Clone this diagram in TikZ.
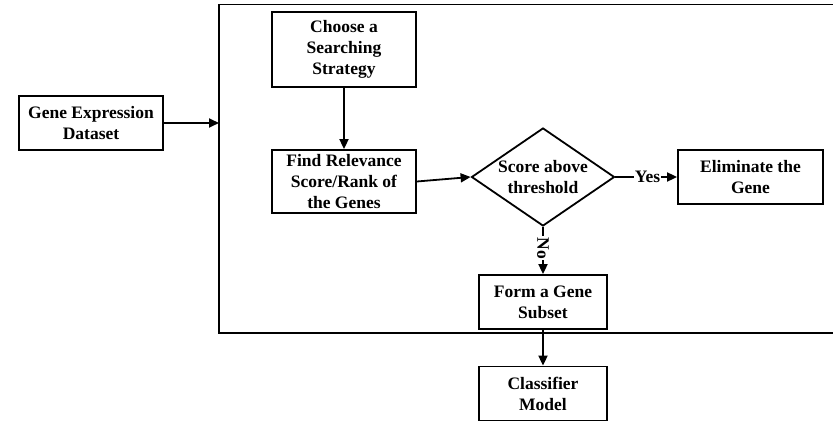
\documentclass[tikz,border=0pt]{standalone}
\usepackage{fontspec}
\setmainfont{Liberation Serif}
\usetikzlibrary{arrows.meta,shapes.geometric}
\begin{document}
\begin{tikzpicture}[x=1pt,y=-1pt,
  every node/.style={font=\bfseries\fontsize{17.5}{21}\selectfont},
  box/.style={draw,line width=1.8pt,align=center,inner sep=0pt},
  decision/.style={draw,diamond,line width=1.8pt,inner sep=0pt,minimum width=143pt,minimum height=98pt},
  conn/.style={line width=1.8pt,-{Triangle[length=10pt,width=9pt]}},
  lbl/.style={fill=white,inner sep=1pt},
  frame/.style={line width=1.8pt}]
\useasboundingbox (0,0) rectangle (833,422);
\draw[frame] (833,4.5) -- (219,4.5) -- (219,333) -- (833,333);
\coordinate (cin) at (219,123);
\node[box,minimum width=144pt,minimum height=54pt] (gene) at (91,123) {Gene Expression\\Dataset};
\node[box,minimum width=144pt,minimum height=75pt] (choose) at (344,49.5) {Choose a\\Searching\\Strategy};
\node[box,minimum width=144pt,minimum height=63pt] (find) at (344,181.5) {Find Relevance\\Score/Rank of\\the Genes};
\node[decision] (dia) at (543,177) {};
\node[align=center,inner sep=0pt] (diat) at (dia.center) {Score above\\threshold};
\node[box,minimum width=145pt,minimum height=54pt] (elim) at (750.5,177) {Eliminate the\\Gene};
\node[box,minimum width=128pt,minimum height=54pt] (form) at (543,302) {Form a Gene\\Subset};
\node[box,minimum width=128pt,minimum height=54pt] (clf) at (543,393.5) {Classifier\\Model};
\draw[conn] (gene.east) -- (cin);
\draw[conn] (choose.south) -- (find.north);
\draw[conn] (find.east) -- (dia.west);
\draw[conn] (dia.east) -- node[lbl,pos=0.52] {Yes} (elim.west);
\draw[conn] (dia.south) -- node[lbl,pos=0.45,rotate=-90] {No} (form.north);
\draw[conn] (form.south) -- (clf.north);
\end{tikzpicture}
\end{document}
